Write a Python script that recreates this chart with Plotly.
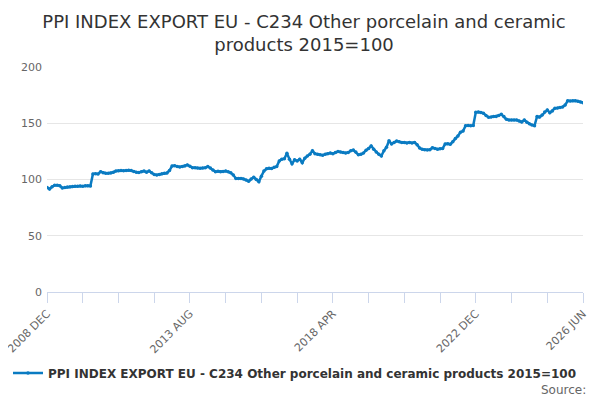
import pandas as pd
import plotly.graph_objects as go

# monthly PPI index, Dec 2008 .. Jun 2026 (2015=100)
start_month = "2008-12"
ppi_values = [
    93, 91.5, 93.5, 95, 95, 94.5, 92.5, 92.8, 93.3, 93.5, 93.8, 94,
    94, 94.2, 94.1, 94.5, 94.5, 94.3, 105, 105.2, 105, 107, 106, 105.5,
    105.5, 105.7, 106.5, 107.5, 107.8, 108, 107.8, 108, 108.2, 108, 107.2, 106.5,
    106.3, 107, 107.5, 106.5, 107.6, 106, 104.5, 104, 104.5, 105.2, 105.5, 105.8,
    108, 112, 112.3, 111.5, 111.2, 111.5, 112, 113, 111.8, 110.5, 110.5, 110.2,
    110, 110.3, 110.5, 111.5, 110.2, 108.5, 107, 107.3, 107, 107.2, 107.5, 107,
    106, 104, 101, 100.8, 101, 100.5, 99.5, 98.5, 100.5, 102, 100, 98,
    103, 107.5, 109.5, 110, 109.8, 111, 111.5, 116.5, 118, 118.5, 123.3, 118,
    114, 117.5, 116.5, 118, 115, 119, 121, 122.5, 125.5, 123, 122.5, 122,
    121.5, 122.5, 123, 123.5, 123, 124, 124.8, 124.5, 124, 123.5, 124, 125.5,
    126.2, 124.5, 122, 122.5, 123.5, 126, 127.5, 129.8, 127, 124.5, 122.5, 121,
    125.5, 128.6, 134.5, 131.6, 133, 134.2, 133.5, 132.8, 133, 132.5, 133, 132.5,
    133, 131, 128, 126.8, 126.5, 126.2, 126.5, 128.3, 127.5, 127, 127.4, 127.5,
    131.6, 131.8, 131.3, 133.5, 136.5, 138.7, 142, 143.1, 147.8, 148, 147.8, 148,
    159.7, 160, 159.5, 158.8, 157, 155.3, 155.5, 156, 156, 157, 157.9, 156,
    153.5, 152.9, 153, 153, 152.9, 152, 151.1, 152.9, 151, 149.5, 148.5, 147.8,
    156, 155.5, 157.3, 160, 161.8, 159.4, 161, 163.3, 163.5, 164.1, 164.5, 166.2,
    170, 169.8, 170, 170, 169.5, 168.8, 168.3,
]
label_every = 56
tick_every = 14

months = pd.period_range(start=start_month, periods=len(ppi_values), freq="M")
month_labels = [f"{p.year} {p.strftime('%b').upper()}" for p in months]

# tick marks every 14 months, labels every 56 months plus the last month
tick_idx = list(range(0, len(month_labels), tick_every))
tick_vals = [month_labels[i] for i in tick_idx]
tick_text = [month_labels[i] if (i % label_every == 0 or i == len(month_labels) - 1) else ""
             for i in tick_idx]

series_name = "PPI INDEX EXPORT EU - C234 Other porcelain and ceramic products 2015=100"

fig = go.Figure()
fig.add_trace(go.Scatter(
    x=month_labels, y=ppi_values, name="<b>" + series_name + "</b>",
    mode="lines+markers",
    line=dict(color="#0a7bc2", width=2.5),
    marker=dict(color="#0a7bc2", size=3.5),
))

# page body has an 8px margin, so the figure is drawn 8px smaller
fig.update_layout(
    width=592, height=392,
    font=dict(family="DejaVu Sans", color="#333333"),
    title=dict(
        text="PPI INDEX EXPORT EU - C234 Other porcelain and ceramic<br>products 2015=100",
        x=0.5, xanchor="center", yref="container", y=0.949, yanchor="middle",
        font=dict(size=18, color="#333333"),
    ),
    paper_bgcolor="white", plot_bgcolor="white",
    margin=dict(l=39, r=17, t=59, b=108),
    showlegend=True,
    legend=dict(
        orientation="h", x=0.446, xanchor="center", y=-0.36, yanchor="middle",
        font=dict(size=12, color="#333333", family="DejaVu Sans"),
        itemwidth=30,
    ),
    annotations=[dict(
        text="Source:", xref="paper", yref="paper", x=1.009, y=-0.436,
        xanchor="right", yanchor="middle", showarrow=False,
        font=dict(size=12, color="#666666"),
    )],
)

fig.update_xaxes(
    type="category", automargin=False,
    tickmode="array", tickvals=tick_vals, ticktext=tick_text,
    tickangle=-45, ticks="outside", ticklen=10, tickcolor="#ccd6eb",
    showline=True, linecolor="#ccd6eb", linewidth=1,
    showgrid=False, range=[0, len(month_labels) - 1],
    tickfont=dict(size=11, color="#666666"),
)
fig.update_yaxes(
    automargin=False,
    range=[0, 200], tickvals=[0, 50, 100, 150, 200],
    gridcolor="#e6e6e6", zeroline=False, showline=False,
    tickfont=dict(size=11, color="#666666"),
    ticklabelstandoff=4,
)

fig.write_html("out.html")
